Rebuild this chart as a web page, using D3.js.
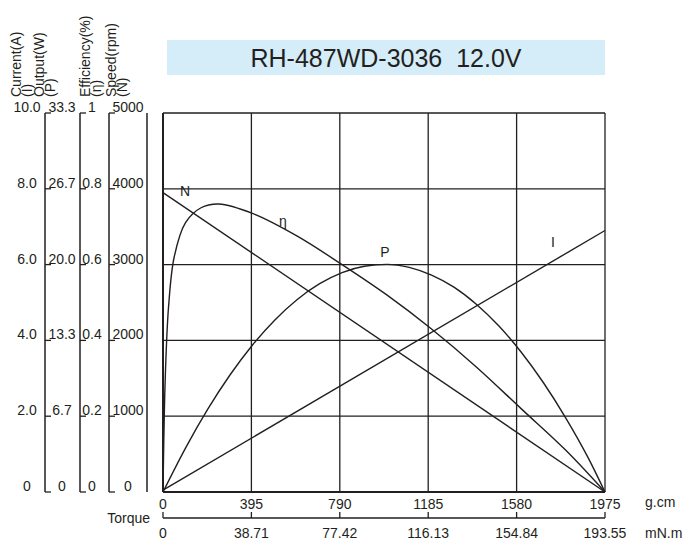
<!DOCTYPE html>
<html><head><meta charset="utf-8">
<script src="https://cdn.jsdelivr.net/npm/d3@7"></script>
<style>body{margin:0;background:#fff}text{font-family:"Liberation Sans Narrow","Liberation Sans",Arial,sans-serif;fill:#231f20;white-space:pre}</style>
</head><body><svg id="c" width="700" height="550"></svg>
<script>
const title = "RH-487WD-3036  12.0V";
const torqueTicks = [0,395,790,1185,1580,1975];
const mnmLabels = ["0","38.71","77.42","116.13","154.84","193.55"];
const currentLabels = ["0","2.0","4.0","6.0","8.0","10.0"];
const outputLabels = ["0","6.7","13.3","20.0","26.7","33.3"];
const effLabels = ["0","0.2","0.4","0.6","0.8","1"];
const speedLabels = ["0","1000","2000","3000","4000","5000"];
// speed (rpm) vs torque
const speedPts = [[0,3950],[1975,0]];
// current (A)
const currentPts = [[0,0.05],[1975,6.9]];
// output (W)
const outputPts = [[0,0],[100,3.84],[200,7.28],[300,10.3],[400,12.92],[500,15.12],[600,16.92],[700,18.3],[800,19.28],[900,19.84],[1000,20.0],[1100,19.74],[1200,19.06],[1300,18.0],[1400,16.5],[1500,14.6],[1600,12.3],[1700,9.6],[1800,6.5],[1900,3.0],[1975,0]];
// efficiency (0-1)
const effPts = [[0,0],[10,0.3],[25,0.49],[50,0.62],[100,0.71],[170,0.75],[250,0.76],[400,0.735],[600,0.675],[800,0.6],[1000,0.52],[1200,0.43],[1400,0.33],[1600,0.22],[1800,0.11],[1975,0]];

const svg = d3.select("#c");
const x = d3.scaleLinear().domain([0,1975]).range([163,605]);
const yN = d3.scaleLinear().domain([0,5000]).range([492,113]);
const yI = d3.scaleLinear().domain([0,10]).range([492,113]);
const yP = d3.scaleLinear().domain([0,33.3]).range([492,113]);
const yE = d3.scaleLinear().domain([0,1]).range([492,113]);
const ink = "#231f20";
const fs = 14;

svg.append("rect").attr("x",167).attr("y",40).attr("width",438).attr("height",35).attr("fill","#d5ecf9");
svg.append("text").attr("x",386).attr("y",67).attr("text-anchor","middle").attr("font-size",25).text(title);

const g = svg.append("g").attr("stroke",ink).attr("stroke-width",1.3);
torqueTicks.forEach(t=>g.append("line").attr("x1",x(t)).attr("x2",x(t)).attr("y1",113).attr("y2",492));
speedLabels.forEach((s,i)=>{const yy=yN(i*1000);g.append("line").attr("x1",163).attr("x2",605).attr("y1",yy).attr("y2",yy);});
g.append("line").attr("x1",163).attr("x2",605).attr("y1",492).attr("y2",492).attr("stroke-width",2);
g.append("line").attr("x1",163).attr("x2",163).attr("y1",113).attr("y2",492).attr("stroke-width",2);

const axes = [
 {line:45, labels:currentLabels, lx:27},
 {line:80, labels:outputLabels, lx:62},
 {line:109, labels:effLabels, lx:92},
 {line:147, labels:speedLabels, lx:128, noTicks:true}
];
axes.forEach(a=>{
  svg.append("line").attr("x1",a.line).attr("x2",a.line).attr("y1",113).attr("y2",492).attr("stroke",ink).attr("stroke-width",1.5);
  a.labels.forEach((l,i)=>{
    const yy = yN(i*1000);
    svg.append("text").attr("x",a.lx).attr("y",yy-1).attr("text-anchor","middle").attr("font-size",fs).text(l);
    if(!a.noTicks) svg.append("line").attr("x1",a.line).attr("x2",a.line+6).attr("y1",yy).attr("y2",yy).attr("stroke",ink).attr("stroke-width",1.3);
  });
});
const titles = [["Current(A)",16],["(I)",27],["Output(W)",39],["(P)",50],["Efficiency(%)",85],["(η)",96],["Speed(rpm)",111],["(N)",122]];
titles.forEach(([t,xx])=>svg.append("text").attr("transform",`translate(${xx+5},97) rotate(-90)`).attr("font-size",fs).text(t));

torqueTicks.forEach((t,i)=>{
  svg.append("text").attr("x",x(t)).attr("y",509).attr("text-anchor","middle").attr("font-size",fs).text(t);
  svg.append("text").attr("x",x(t)).attr("y",538).attr("text-anchor",i==0?"start":"middle").attr("dx",i==0?-4:0).attr("font-size",fs).text(mnmLabels[i]);
  svg.append("line").attr("x1",x(t)).attr("x2",x(t)).attr("y1",512).attr("y2",518).attr("stroke",ink).attr("stroke-width",1.3);
});
svg.append("line").attr("x1",x(0)).attr("x2",x(1975)).attr("y1",518).attr("y2",518).attr("stroke",ink).attr("stroke-width",1.5);
svg.append("text").attr("x",150).attr("y",523).attr("text-anchor","end").attr("font-size",fs).text("Torque");
svg.append("text").attr("x",645).attr("y",507).attr("font-size",fs).text("g.cm");
svg.append("text").attr("x",645).attr("y",538).attr("font-size",fs).text("mN.m");

const draw = (pts, ys, curve) => svg.append("path").attr("fill","none").attr("stroke",ink).attr("stroke-width",1.4)
  .attr("d", d3.line().x(d=>x(d[0])).y(d=>ys(d[1])).curve(curve)(pts));
draw(speedPts, yN, d3.curveLinear);
draw(currentPts, yI, d3.curveLinear);
draw(outputPts, yP, d3.curveMonotoneX);
draw(effPts, yE, d3.curveCatmullRom.alpha(0.5));

[["N",185,196],["η",283,226],["P",385,257],["I",553,247]].forEach(([t,xx,yy])=>
  svg.append("text").attr("x",xx).attr("y",yy).attr("text-anchor","middle").attr("font-size",fs).text(t));
</script></body></html>
